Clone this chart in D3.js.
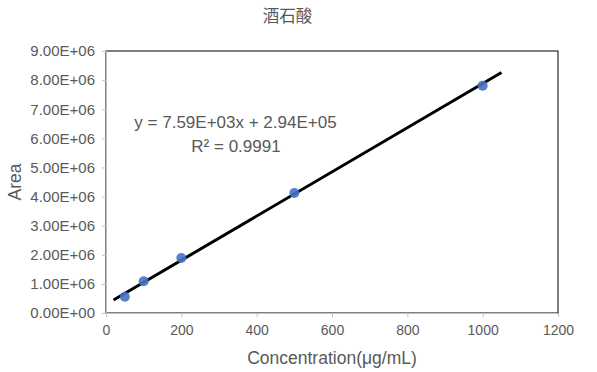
<!DOCTYPE html>
<html>
<head>
<meta charset="UTF-8">
<style>
  body { margin: 0; background: #fff; }
  text { font-family: "Liberation Sans", Arial, sans-serif; fill: #595959; }
</style>
</head>
<body>
<script src="https://d3js.org/d3.v7.min.js"></script>
<div id="chart"></div>
<script>
  // data
  const conc = [50, 100, 200, 500, 1000];
  const area = [0.56e6, 1.09e6, 1.89e6, 4.12e6, 7.81e6];
  const xTicks = [0, 200, 400, 600, 800, 1000, 1200];
  const yTicks = [0, 1e6, 2e6, 3e6, 4e6, 5e6, 6e6, 7e6, 8e6, 9e6];
  const slope = 7.59e3, intercept = 2.94e5;
  const trendRange = [20, 1050];

  const W = 597, H = 372;
  const margin = { top: 51, right: 39, bottom: 59, left: 106 },
    width = W - margin.left - margin.right,
    height = H - margin.top - margin.bottom;

  const svg = d3.select("#chart").append("svg")
    .attr("width", W).attr("height", H);

  const g = svg.append("g")
    .attr("transform", `translate(${margin.left},${margin.top})`);

  const x = d3.scaleLinear().domain([0, 1200]).range([0, width]);
  const y = d3.scaleLinear().domain([0, 9e6]).range([height, 0]);

  // plot area border
  g.append("rect")
    .attr("x", 0).attr("y", 0)
    .attr("width", width).attr("height", height)
    .attr("fill", "none").attr("stroke", "#000").attr("stroke-width", 1);

  // axes
  const xAxis = g.append("g")
    .attr("transform", `translate(0,${height})`)
    .call(d3.axisBottom(x).tickValues(xTicks).tickSize(4).tickPadding(8)
      .tickFormat(d3.format("d")));
  const yAxis = g.append("g")
    .call(d3.axisLeft(y).tickValues(yTicks).tickSize(4).tickPadding(7)
      .tickFormat(d => (d / 1e6).toFixed(2) + "E+" + (d === 0 ? "00" : "06")));

  [xAxis, yAxis].forEach(a => {
    a.select(".domain").attr("stroke", "#bfbfbf");
    a.selectAll(".tick line").attr("stroke", "#bfbfbf");
    a.selectAll("text").attr("fill", "#595959")
      .style("font-family", "'Liberation Sans', Arial, sans-serif");
  });
  xAxis.selectAll("text").style("font-size", "14px");
  yAxis.selectAll("text").style("font-size", "15px");

  // trendline
  g.append("line")
    .attr("x1", x(trendRange[0])).attr("y1", y(slope * trendRange[0] + intercept))
    .attr("x2", x(trendRange[1])).attr("y2", y(slope * trendRange[1] + intercept))
    .attr("stroke", "#000").attr("stroke-width", 3);

  // points
  g.selectAll("circle")
    .data(conc)
    .enter()
    .append("circle")
    .attr("cx", d => x(d))
    .attr("cy", (d, i) => y(area[i]))
    .attr("r", 5)
    .attr("fill", "#4472c4")
    .attr("opacity", 0.9);

  // equation
  svg.append("text")
    .attr("x", 235.5).attr("y", 128)
    .attr("text-anchor", "middle")
    .style("font-size", "17px")
    .attr("fill", "#404040")
    .text("y = 7.59E+03x + 2.94E+05");
  svg.append("text")
    .attr("x", 236).attr("y", 152)
    .attr("text-anchor", "middle")
    .style("font-size", "17px")
    .attr("fill", "#404040")
    .text("R² = 0.9991");

  // titles
  svg.append("text")
    .attr("x", 287.5).attr("y", 22)
    .attr("text-anchor", "middle")
    .style("font-family", "'Noto Sans CJK SC', sans-serif")
    .style("font-size", "16.5px")
    .text("酒石酸");

  svg.append("text")
    .attr("x", margin.left + width / 2).attr("y", 364)
    .attr("text-anchor", "middle")
    .style("font-size", "17.5px")
    .text("Concentration(μg/mL)");

  svg.append("text")
    .attr("transform", `translate(21,${margin.top + height / 2}) rotate(-90)`)
    .attr("text-anchor", "middle")
    .style("font-size", "17.5px")
    .text("Area");
</script>
</body>
</html>
